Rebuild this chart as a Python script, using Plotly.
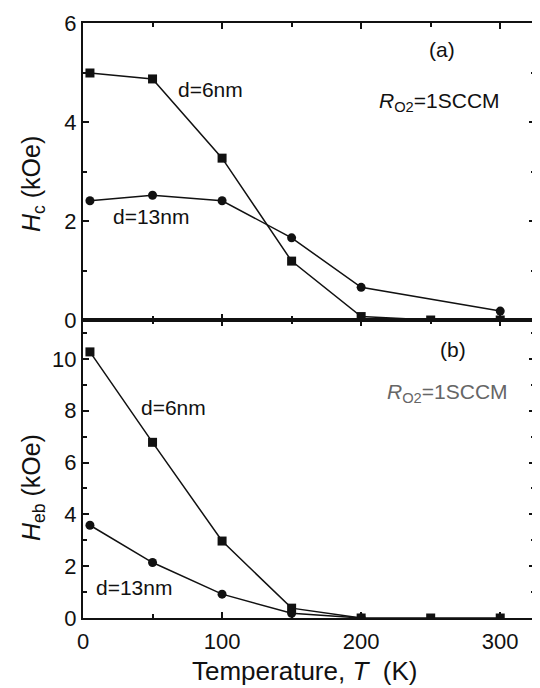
import plotly.graph_objects as go

# ---- data ----
T = [5, 50, 100, 150, 200, 250, 300]
hc_6nm = [4.99, 4.87, 3.27, 1.19, 0.07, 0.0, 0.0]
T_hc13 = [5, 50, 100, 150, 200, 300]
hc_13nm = [2.41, 2.52, 2.41, 1.66, 0.66, 0.18]

heb_6nm = [10.27, 6.78, 2.97, 0.38, 0.0, 0.0, 0.0]
T_heb13 = [5, 50, 100, 150, 200]
heb_13nm = [3.58, 2.14, 0.92, 0.18, 0.0]

x_ticks = [0, 100, 200, 300]
hc_ticks = [0, 2, 4, 6]
heb_ticks = [0, 2, 4, 6, 8, 10]

FONT = "Liberation Sans, Arial, sans-serif"
BLACK = "#111111"

fig = go.Figure()

def add(x, y, sym, xa, ya):
    fig.add_trace(go.Scatter(
        x=x, y=y, mode="lines+markers", xaxis=xa, yaxis=ya,
        line=dict(color=BLACK, width=1.5),
        marker=dict(symbol=sym, size=9, color=BLACK),
        showlegend=False))

add(T, hc_6nm, "square", "x", "y")
add(T_hc13, hc_13nm, "circle", "x", "y")
add(T, heb_6nm, "square", "x2", "y2")
add(T_heb13, heb_13nm, "circle", "x2", "y2")

axis_common = dict(
    showline=True, linecolor=BLACK, linewidth=2.2, mirror="ticks",
    ticks="inside", ticklen=6, tickwidth=2, tickcolor=BLACK,
    showgrid=False, zeroline=False,
    tickfont=dict(family=FONT, size=22, color=BLACK),
)

yb_top = 0.5008

fig.update_layout(
    width=532, height=680,
    margin=dict(l=75, r=3, t=13, b=70),
    paper_bgcolor="white", plot_bgcolor="white",
    font=dict(family=FONT, color=BLACK),
    xaxis=dict(axis_common, range=[0, 325], tickvals=x_ticks,
               showticklabels=False, anchor="y",
               minor=dict(dtick=50, tick0=0, ticks="inside", ticklen=4,
                          tickwidth=2, tickcolor=BLACK)),
    yaxis=dict(axis_common, range=[0, 6], tickvals=hc_ticks,
               domain=[yb_top, 1], anchor="x",
               minor=dict(dtick=1, tick0=0, ticks="inside", ticklen=4,
                          tickwidth=2, tickcolor=BLACK)),
    xaxis2=dict(axis_common, range=[0, 325], tickvals=x_ticks,
                anchor="y2", ticklabelstandoff=2,
                minor=dict(dtick=50, tick0=0, ticks="inside", ticklen=4,
                           tickwidth=2, tickcolor=BLACK)),
    yaxis2=dict(axis_common, range=[0, 11.5], tickvals=heb_ticks,
                domain=[0, yb_top], anchor="x2",
                minor=dict(dtick=1, tick0=0, ticks="inside", ticklen=4,
                           tickwidth=2, tickcolor=BLACK)),
)

def note(text, x, y, xr, yr, size=21, color=BLACK):
    fig.add_annotation(text=text, x=x, y=y, xref=xr, yref=yr,
                       showarrow=False, xanchor="center", yanchor="middle",
                       font=dict(family=FONT, size=size, color=color))

note("(a)", 258, 5.47, "x", "y")
note("d=6nm", 92, 4.65, "x", "y")
note("<i>R</i><sub>O2</sub>=1SCCM", 256, 4.41, "x", "y")
note("d=13nm", 49, 2.09, "x", "y")

note("(b)", 266, 10.38, "x2", "y2")
note("<i>R</i><sub>O2</sub>=1SCCM", 262, 8.69, "x2", "y2", color="#666666")
note("d=6nm", 65, 8.12, "x2", "y2")
note("d=13nm", 37, 1.19, "x2", "y2")

fig.add_annotation(text="<i>H</i><sub>c</sub> (kOe)", x=-0.112, y=0.730,
                   xref="paper", yref="paper", showarrow=False, textangle=-90,
                   xanchor="center", yanchor="middle",
                   font=dict(family=FONT, size=25, color=BLACK))
fig.add_annotation(text="<i>H</i><sub>eb</sub> (kOe)", x=-0.112, y=0.219,
                   xref="paper", yref="paper", showarrow=False, textangle=-90,
                   xanchor="center", yanchor="middle",
                   font=dict(family=FONT, size=25, color=BLACK))
fig.add_annotation(text="Temperature, <i>T</i>&nbsp; (K)", x=0.491, y=-0.1155,
                   xref="paper", yref="paper", showarrow=False,
                   xanchor="center", yanchor="bottom", borderpad=0,
                   font=dict(family=FONT, size=26, color=BLACK))

fig.write_html("out.html")
